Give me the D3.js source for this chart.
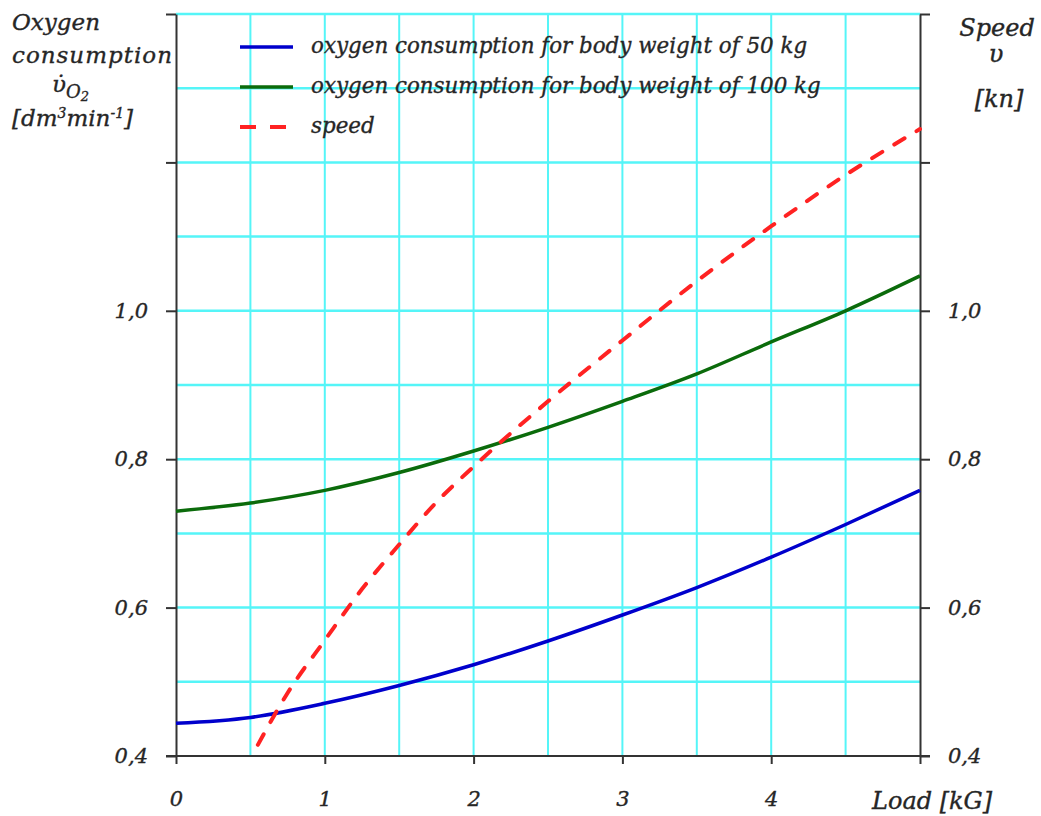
<!DOCTYPE html>
<html>
<head>
<meta charset="utf-8">
<script src="https://cdn.jsdelivr.net/npm/d3@7"></script>
<style>
  body { margin: 0; background: #fff; }
  svg text { font-family: "DejaVu Serif", serif; font-style: italic; fill: #262626; stroke: #262626; stroke-width: 0.35px; }
  .axis path, .axis line { stroke: #333; stroke-width: 2; }
</style>
</head>
<body>
<svg id="svg"></svg>
<script>
// load values on the x axis (kG)
const load = [0, 0.5, 1, 1.5, 2, 2.5, 3, 3.5, 4, 4.5, 5];
// oxygen consumption (dm3/min)
const oxygen50 = [0.444, 0.452, 0.471, 0.495, 0.523, 0.555, 0.59, 0.627, 0.668, 0.712, 0.758];
const oxygen100 = [0.730, 0.741, 0.758, 0.782, 0.811, 0.843, 0.878, 0.915, 0.958, 1.0, 1.047];
// speed (kn), its own load points
const speedLoad = [0.55, 0.75, 1, 1.25, 1.5, 1.75, 2, 2.5, 3, 3.5, 4, 4.5, 5];
const speed = [0.415, 0.485, 0.556, 0.625, 0.685, 0.742, 0.79, 0.878, 0.96, 1.04, 1.114, 1.183, 1.245];

const xTicks = [0, 1, 2, 3, 4, 5];
const yTicks = [0.4, 0.6, 0.8, 1.0, 1.2, 1.4];
const yLabels = ["0,4", "0,6", "0,8", "1,0", "", ""];
const xGrid = [0.5, 1, 1.5, 2, 2.5, 3, 3.5, 4, 4.5];
const yGrid = [0.5, 0.6, 0.7, 0.8, 0.9, 1.0, 1.1, 1.2, 1.3, 1.4];

const legendItems = [
  {label: "oxygen consumption for body weight of 50 kg", color: "#0000cc", dash: null},
  {label: "oxygen consumption for body weight of 100 kg", color: "#0b6b0b", dash: null},
  {label: "speed", color: "#ff2222", dash: "16,14"}
];

const width = 1041, height = 816;
const svg = d3.select("#svg").attr("width", width).attr("height", height);

const x = d3.scaleLinear().domain([0, 5]).range([176, 920]);
const y = d3.scaleLinear().domain([0.4, 1.4]).range([756, 14]);

// grid
svg.append("g")
   .selectAll("line")
   .data(xGrid)
   .enter()
   .append("line")
   .attr("x1", d => x(d)).attr("x2", d => x(d))
   .attr("y1", y(1.4)).attr("y2", y(0.4))
   .style("stroke", "#55f5f8")
   .style("stroke-width", 2);

svg.append("g")
   .selectAll("line")
   .data(yGrid)
   .enter()
   .append("line")
   .attr("x1", x(0)).attr("x2", x(5))
   .attr("y1", d => y(d)).attr("y2", d => y(d))
   .style("stroke", "#55f5f8")
   .style("stroke-width", 2.5);

// axes
const fmt = d => yLabels[yTicks.indexOf(d)];
svg.append("g")
   .attr("class", "axis")
   .attr("transform", "translate(" + x(0) + ",0)")
   .call(d3.axisLeft(y).tickValues(yTicks).tickFormat(fmt).tickSize(10).tickSizeOuter(0).tickPadding(18));

svg.append("g")
   .attr("class", "axis")
   .attr("transform", "translate(" + x(5) + ",0)")
   .call(d3.axisRight(y).tickValues(yTicks).tickFormat(fmt).tickSize(10).tickSizeOuter(0).tickPadding(18));

const bottomAxis = svg.append("g")
   .attr("class", "axis")
   .attr("transform", "translate(0," + y(0.4) + ")")
   .call(d3.axisBottom(x).tickValues(xTicks).tickFormat(d => d === 5 ? "" : d).tickSize(8).tickSizeOuter(0).tickPadding(27));

svg.selectAll(".axis text").style("font-size", "21px").style("font-family", "'DejaVu Serif', serif");
// bottom axis line runs past both side axes
bottomAxis.select(".domain").attr("d", "M" + (x(0) - 10) + ",0H" + (x(5) + 10));

// curves
const line = d3.line().x(d => x(d[0])).y(d => y(d[1])).curve(d3.curveMonotoneX);

svg.append("path")
   .datum(load.map((d, i) => [d, oxygen50[i]]))
   .attr("d", line)
   .style("fill", "none")
   .style("stroke", legendItems[0].color)
   .style("stroke-width", 3.5);

svg.append("path")
   .datum(load.map((d, i) => [d, oxygen100[i]]))
   .attr("d", line)
   .style("fill", "none")
   .style("stroke", legendItems[1].color)
   .style("stroke-width", 3.5);

svg.append("path")
   .datum(speedLoad.map((d, i) => [d, speed[i]]))
   .attr("d", line)
   .style("fill", "none")
   .style("stroke", legendItems[2].color)
   .style("stroke-width", 4)
   .style("stroke-linecap", "round")
   .style("stroke-dasharray", "12,14");

// legend
const legend = svg.append("g")
   .selectAll("g")
   .data(legendItems)
   .enter()
   .append("g")
   .attr("transform", (d, i) => "translate(240," + (47 + i * 40) + ")");

legend.append("line")
   .attr("x1", 0).attr("x2", 53)
   .style("stroke", d => d.color)
   .style("stroke-width", d => d.dash ? 4 : 3.5)
   .style("stroke-dasharray", d => d.dash);

legend.append("text")
   .attr("x", 71)
   .attr("y", 6)
   .style("font-size", "21.4px")
   .text(d => d.label);

// axis titles
const lt = svg.append("g").style("font-size", "23px");
lt.append("text").attr("x", 12).attr("y", 30).text("Oxygen");
lt.append("text").attr("x", 12).attr("y", 63).attr("textLength", 160).text("consumption");
const v = lt.append("text").attr("x", 52).attr("y", 92);
v.append("tspan").text("\u03C5\u0307");
v.append("tspan").attr("dy", 6).style("font-size", "18px").text("O");
v.append("tspan").attr("dy", 3).style("font-size", "13px").text("2");
const u = lt.append("text").attr("x", 12).attr("y", 126);
u.append("tspan").text("[dm");
u.append("tspan").attr("dy", -8).style("font-size", "14px").text("3");
u.append("tspan").attr("dy", 8).text("min");
u.append("tspan").attr("dy", -8).style("font-size", "14px").text("-1");
u.append("tspan").attr("dy", 8).text("]");

const rt = svg.append("g").style("font-size", "24px").attr("text-anchor", "middle");
rt.append("text").attr("x", 997).attr("y", 36).text("Speed");
rt.append("text").attr("x", 996).attr("y", 62).text("\u03C5");
rt.append("text").attr("x", 999).attr("y", 107).text("[kn]");

svg.append("text")
   .attr("x", 872)
   .attr("y", 809)
   .style("font-size", "24px")
   .text("Load [kG]");
</script>
</body>
</html>
